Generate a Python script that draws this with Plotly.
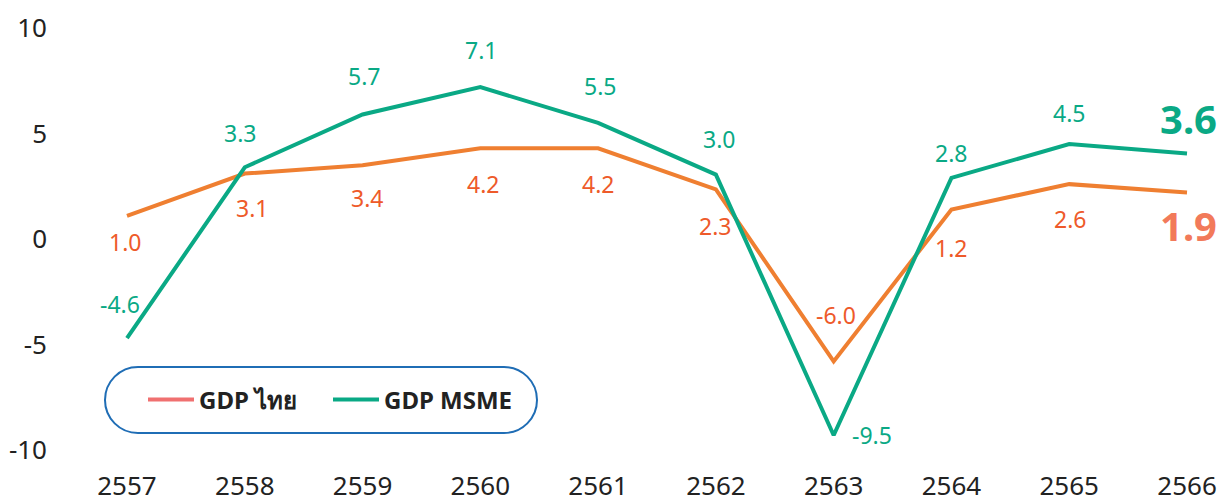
import plotly.graph_objects as go

# ---------------- data ----------------
years = [2557, 2558, 2559, 2560, 2561, 2562, 2563, 2564, 2565, 2566]
# line positions
gdp_thai = [1.1, 3.1, 3.5, 4.3, 4.3, 2.35, -5.8, 1.4, 2.6, 2.2]
gdp_msme = [-4.7, 3.4, 5.9, 7.2, 5.5, 3.05, -9.3, 2.9, 4.5, 4.05]
# printed data labels
gdp_thai_labels = [1.0, 3.1, 3.4, 4.2, 4.2, 2.3, -6.0, 1.2, 2.6, 1.9]
gdp_msme_labels = [-4.6, 3.3, 5.7, 7.1, 5.5, 3.0, -9.5, 2.8, 4.5, 3.6]
y_ticks = [10, 5, 0, -5, -10]
series_names = ["GDP ไทย", "GDP MSME"]

# ---------------- styles ----------------
FONT = "Noto Sans, Open Sans, sans-serif"
ORANGE = "#EF7F31"
ORANGE_TXT = "#EE5A2A"
ORANGE_BIG = "#F27A5A"
ORANGE_LEG = "#F07070"
GREEN = "#0AA985"
AXIS_TXT = "#222222"

# label offsets (px): (dx, dy) with dy positive = downwards on screen
thai_off = [(-2, 26), (7, 34), (4, 33), (3, 36), (0, 36), (-1, 37), (2, -46), (0, 39), (1, 35), (1, 33)]
msme_off = [(-7, -34), (-5, -34), (1, -39), (1, -37), (2, -37), (3, -36), (38, 0), (0, -25), (0, -31), (1, -35)]

# the page body adds an 8px margin, so the figure is drawn 8px smaller
OFF = 8
W, H = 1226 - OFF, 502 - OFF
L, T = 60 - OFF, 28 - OFF
R = 0
B = H - (450 - OFF)
pw, ph = W - L - R, H - T - B

fig = go.Figure()
fig.add_trace(go.Scatter(x=years, y=gdp_thai, mode="lines",
                         line=dict(color=ORANGE, width=4), showlegend=False, hoverinfo="skip"))
fig.add_trace(go.Scatter(x=years, y=gdp_msme, mode="lines",
                         line=dict(color=GREEN, width=4), showlegend=False, hoverinfo="skip"))
# legend entries
fig.add_trace(go.Scatter(x=[None], y=[None], mode="lines", name=series_names[0],
                         line=dict(color=ORANGE_LEG, width=4)))
fig.add_trace(go.Scatter(x=[None], y=[None], mode="lines", name=series_names[1],
                         line=dict(color=GREEN, width=4)))

annots = []
n = len(years)
for i in range(n):
    last = i == n - 1
    dx, dy = thai_off[i]
    annots.append(dict(x=years[i], y=gdp_thai[i], xref="x", yref="y", showarrow=False,
                       text=(f"<b>{gdp_thai_labels[i]:.1f}</b>" if last else f"{gdp_thai_labels[i]:.1f}"),
                       font=dict(family=FONT, size=40 if last else 23,
                                 color=ORANGE_BIG if last else ORANGE_TXT),
                       xshift=dx, yshift=-dy))
    dx, dy = msme_off[i]
    annots.append(dict(x=years[i], y=gdp_msme[i], xref="x", yref="y", showarrow=False,
                       text=(f"<b>{gdp_msme_labels[i]:.1f}</b>" if last else f"{gdp_msme_labels[i]:.1f}"),
                       font=dict(family=FONT, size=40 if last else 23, color=GREEN),
                       xshift=dx, yshift=-dy))

# rounded (pill) legend frame, path in pixels around an anchor
hw, hh, r = 216, 33, 33
k = 0.5523 * r
path = (f"M {-hw + r},{-hh} L {hw - r},{-hh} "
        f"C {hw - r + k},{-hh} {hw},{-hh + r - k} {hw},{-hh + r} "
        f"L {hw},{hh - r} "
        f"C {hw},{hh - r + k} {hw - r + k},{hh} {hw - r},{hh} "
        f"L {-hw + r},{hh} "
        f"C {-hw + r - k},{hh} {-hw},{hh - r + k} {-hw},{hh - r} "
        f"L {-hw},{-hh + r} "
        f"C {-hw},{-hh + r - k} {-hw + r - k},{-hh} {-hw + r},{-hh} Z")
cx_px, cy_px = 321 - OFF, 400 - OFF
fig.add_shape(type="path", xref="paper", yref="paper", xsizemode="pixel", ysizemode="pixel",
              xanchor=(cx_px - L) / pw, yanchor=(H - B - cy_px) / ph, path=path,
              line=dict(color="#1F6DB5", width=2), fillcolor="rgba(0,0,0,0)", layer="below")

px_per_year = 117.8
x_left = years[0] - (127 - OFF - L) / px_per_year
x_right = years[-1] + (W - R - (1187 - OFF)) / px_per_year

fig.update_layout(
    width=W, height=H,
    margin=dict(l=L, r=R, t=T, b=B, autoexpand=False),
    paper_bgcolor="white", plot_bgcolor="white",
    font=dict(family=FONT, color=AXIS_TXT),
    annotations=annots,
    legend=dict(orientation="h", x=(143 - OFF - L) / pw, xanchor="left",
                y=(H - B - cy_px) / ph, yanchor="middle",
                bgcolor="rgba(0,0,0,0)", borderwidth=0,
                font=dict(family=FONT, size=24, color="#222222", weight="bold"),
                itemwidth=46, entrywidth=124, entrywidthmode="pixels"),
    xaxis=dict(range=[x_left, x_right], tickvals=years, ticktext=[str(y) for y in years],
               showgrid=False, zeroline=False, showline=False, ticks="", automargin=False,
               tickfont=dict(size=26, color=AXIS_TXT), ticklabelstandoff=18),
    yaxis=dict(range=[-10, 10], tickvals=y_ticks, ticktext=[str(v) for v in y_ticks],
               showgrid=False, zeroline=False, showline=False, ticks="", automargin=False,
               tickfont=dict(size=26, color=AXIS_TXT), ticklabelstandoff=12),
)

fig.write_html("out.html")
